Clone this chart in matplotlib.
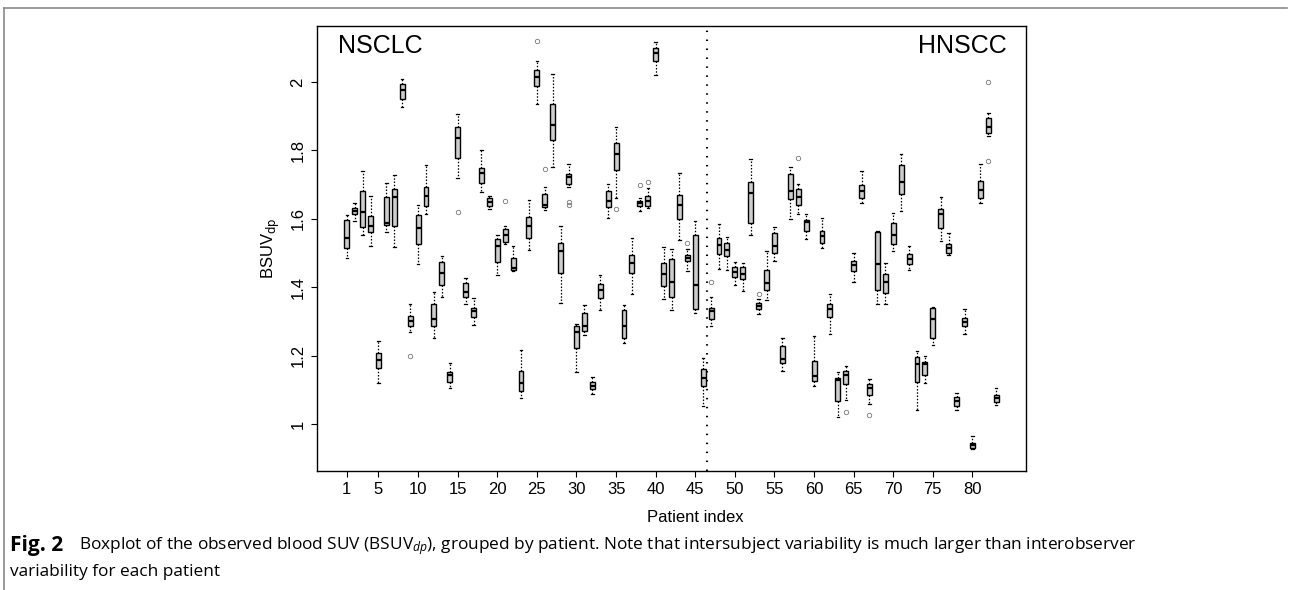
import matplotlib
matplotlib.use("Agg")
import matplotlib.pyplot as plt
import numpy as np

# per patient box statistics
patients = list(range(1, 84))
whis_lo = [1.486, 1.594, 1.553, 1.520, 1.122, 1.563, 1.518, 1.927, 1.269, 1.469,
           1.613, 1.251, 1.371, 1.106, 1.718, 1.352, 1.289, 1.678, 1.629, 1.436,
           1.526, 1.449, 1.076, 1.510, 1.934, 1.625, 1.751, 1.355, 1.694, 1.154,
           1.261, 1.088, 1.335, 1.602, 1.661, 1.238, 1.382, 1.623, 1.632, 2.021,
           1.365, 1.335, 1.538, 1.449, 1.324, 1.053, 1.286, 1.455, 1.450, 1.407,
           1.390, 1.552, 1.323, 1.363, 1.476, 1.157, 1.599, 1.613, 1.541, 1.112,
           1.514, 1.265, 1.022, 1.070, 1.416, 1.646, 1.061, 1.351, 1.351, 1.507,
           1.624, 1.452, 1.041, 1.120, 1.231, 1.535, 1.496, 1.042, 1.263, 0.929,
           1.646, 1.841, 1.056]
q1 = [1.514, 1.613, 1.575, 1.561, 1.164, 1.583, 1.578, 1.949, 1.287, 1.526,
      1.639, 1.286, 1.407, 1.124, 1.777, 1.372, 1.315, 1.704, 1.637, 1.475,
      1.533, 1.452, 1.097, 1.544, 1.989, 1.635, 1.831, 1.441, 1.703, 1.224,
      1.272, 1.103, 1.368, 1.634, 1.744, 1.252, 1.441, 1.639, 1.639, 2.060,
      1.404, 1.371, 1.600, 1.476, 1.338, 1.112, 1.307, 1.497, 1.492, 1.430,
      1.425, 1.589, 1.337, 1.391, 1.499, 1.179, 1.657, 1.642, 1.565, 1.127,
      1.530, 1.315, 1.069, 1.119, 1.449, 1.660, 1.086, 1.392, 1.383, 1.526,
      1.673, 1.468, 1.125, 1.143, 1.251, 1.574, 1.501, 1.053, 1.286, 0.932,
      1.661, 1.851, 1.065]
med = [1.544, 1.624, 1.620, 1.578, 1.188, 1.589, 1.663, 1.975, 1.301, 1.572,
       1.666, 1.309, 1.441, 1.143, 1.836, 1.386, 1.330, 1.734, 1.648, 1.520,
       1.553, 1.458, 1.120, 1.578, 2.013, 1.641, 1.873, 1.506, 1.723, 1.271,
       1.287, 1.111, 1.391, 1.651, 1.789, 1.287, 1.470, 1.645, 1.653, 2.085,
       1.439, 1.417, 1.640, 1.486, 1.407, 1.137, 1.330, 1.523, 1.509, 1.444,
       1.438, 1.675, 1.347, 1.413, 1.521, 1.191, 1.680, 1.663, 1.592, 1.141,
       1.549, 1.337, 1.130, 1.143, 1.464, 1.682, 1.107, 1.468, 1.417, 1.554,
       1.707, 1.482, 1.177, 1.175, 1.308, 1.614, 1.515, 1.068, 1.300, 0.940,
       1.684, 1.868, 1.076]
q3 = [1.596, 1.632, 1.680, 1.607, 1.208, 1.663, 1.686, 1.994, 1.316, 1.610,
      1.693, 1.351, 1.473, 1.152, 1.868, 1.414, 1.339, 1.749, 1.660, 1.540,
      1.571, 1.486, 1.156, 1.605, 2.036, 1.672, 1.934, 1.531, 1.730, 1.286,
      1.324, 1.123, 1.411, 1.681, 1.822, 1.333, 1.495, 1.651, 1.668, 2.099,
      1.472, 1.482, 1.669, 1.496, 1.553, 1.163, 1.341, 1.544, 1.529, 1.459,
      1.461, 1.707, 1.355, 1.450, 1.560, 1.229, 1.730, 1.688, 1.597, 1.185,
      1.565, 1.353, 1.137, 1.156, 1.477, 1.698, 1.119, 1.562, 1.439, 1.587,
      1.757, 1.497, 1.198, 1.183, 1.339, 1.630, 1.528, 1.080, 1.312, 0.945,
      1.711, 1.894, 1.087]
whis_hi = [1.611, 1.645, 1.739, 1.668, 1.244, 1.704, 1.728, 2.007, 1.352, 1.642,
           1.757, 1.388, 1.492, 1.179, 1.906, 1.428, 1.368, 1.801, 1.668, 1.552,
           1.578, 1.520, 1.217, 1.655, 2.062, 1.692, 2.022, 1.578, 1.761, 1.292,
           1.350, 1.138, 1.435, 1.703, 1.868, 1.349, 1.545, 1.662, 1.691, 2.115,
           1.518, 1.511, 1.735, 1.512, 1.594, 1.195, 1.371, 1.586, 1.546, 1.475,
           1.472, 1.776, 1.365, 1.507, 1.577, 1.251, 1.751, 1.701, 1.614, 1.257,
           1.602, 1.381, 1.153, 1.171, 1.499, 1.741, 1.132, 1.566, 1.471, 1.616,
           1.789, 1.521, 1.214, 1.200, 1.343, 1.665, 1.558, 1.091, 1.337, 0.965,
           1.759, 1.909, 1.105]
outliers = {9: [1.200], 15: [1.621], 21: [1.653], 25: [2.118], 26: [1.746],
            29: [1.650, 1.640], 35: [1.630], 38: [1.700], 39: [1.708],
            44: [1.530], 47: [1.417], 53: [1.382], 58: [1.778], 64: [1.036],
            67: [1.027], 82: [2.001, 1.770]}

xticks = [1, 5, 10, 15, 20, 25, 30, 35, 40, 45, 50, 55, 60, 65, 70, 75, 80]
split_at = 46.5

stats = []
for i, p in enumerate(patients):
    stats.append({"med": med[i], "q1": q1[i], "q3": q3[i],
                  "whislo": whis_lo[i], "whishi": whis_hi[i],
                  "fliers": outliers.get(p, [])})

fig = plt.figure(figsize=(12.89, 5.90), dpi=100)
ax = fig.add_axes([0.2457, 0.2022, 0.7962 - 0.2457, 0.9559 - 0.2022])

plt.rcParams["mathtext.fontset"] = "custom"
plt.rcParams["mathtext.rm"] = "Liberation Sans"
plt.rcParams["mathtext.it"] = "Open Sans:italic"

ax.bxp(stats, positions=patients, widths=0.62, patch_artist=True,
       boxprops=dict(facecolor="#cdcdcd", edgecolor="black", linewidth=1.0),
       medianprops=dict(color="black", linewidth=1.6),
       whiskerprops=dict(color="black", linewidth=0.9, linestyle=(0, (1.2, 1.4))),
       capprops=dict(color="black", linewidth=0.9),
       flierprops=dict(marker="o", markersize=3.2, markerfacecolor="none",
                       markeredgecolor="#777777", markeredgewidth=0.6))

ax.axvline(split_at, color="black", lw=1.5, ls=(0, (0.7, 3.6)))

ax.set_xlim(-2.8, 86.8)
ax.set_ylim(0.865, 2.163)
ax.set_xticks(xticks)
ax.set_xticklabels([str(t) for t in xticks])
ax.set_yticks([1, 1.2, 1.4, 1.6, 1.8, 2])
ax.set_yticklabels(["1", "1.2", "1.4", "1.6", "1.8", "2"], rotation=90, va="center")
ax.tick_params(axis="both", direction="out", length=4, width=0.8, pad=4,
               labelsize=12)
for lab in ax.get_xticklabels() + ax.get_yticklabels():
    lab.set_family("Liberation Sans")
for s in ax.spines.values():
    s.set_linewidth(1.0)

ax.set_xlabel("Patient index", family="Liberation Sans", fontsize=12)
ax.xaxis.set_label_coords(0.533, -0.088)
ax.set_ylabel(r"BSUV$_{\mathrm{dp}}$", family="Liberation Sans", fontsize=12)
ax.yaxis.set_label_coords(-0.049, 0.5)

ax.text(0.03, 0.955, "NSCLC", transform=ax.transAxes, ha="left", va="center",
        family="Liberation Sans", fontsize=18)
ax.text(0.9725, 0.955, "HNSCC", transform=ax.transAxes, ha="right", va="center",
        family="Liberation Sans", fontsize=18)

# journal frame lines
fig.add_artist(plt.Line2D([4 / 1289, 1287 / 1289], [1 - 8 / 590, 1 - 8 / 590],
                          color="#8a8a8a", lw=1.2))
fig.add_artist(plt.Line2D([4 / 1289, 4 / 1289], [0, 1 - 8 / 590],
                          color="#8a8a8a", lw=1.2))

# caption
y1 = 1 - 546 / 590
y2 = 1 - 572 / 590
fig.text(10 / 1289, y1, "Fig. 2", family="Open Sans", weight="bold",
         fontsize=15, va="center")
fig.text(79 / 1289, y1,
         r"Boxplot of the observed blood SUV (BSUV$_{dp}$), grouped by patient. "
         "Note that intersubject variability is much larger than interobserver",
         family="Open Sans", fontsize=12.45, va="center")
fig.text(10 / 1289, y2, "variability for each patient", family="Open Sans",
         fontsize=12.45, va="center")

fig.savefig("out.png", dpi=100)
